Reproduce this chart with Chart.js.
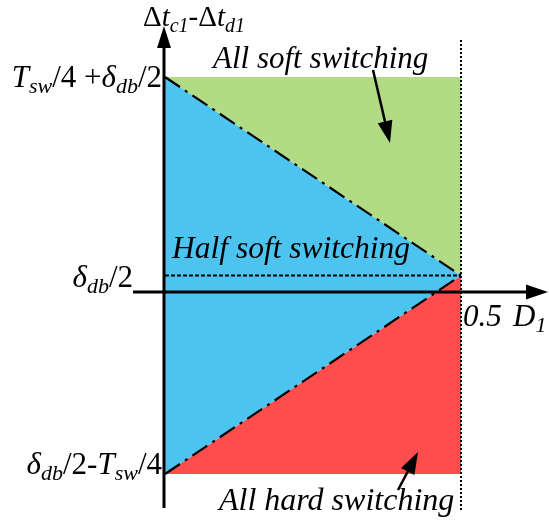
<!DOCTYPE html>
<html lang="en">
<head>
  <meta charset="utf-8"/>
  <title>Soft switching regions</title>
  <script src="https://cdn.jsdelivr.net/npm/chart.js"></script>
  <style>
    html, body { margin: 0; padding: 0; background: #fff; }
    #wrap { width: 549px; height: 525px; }
  </style>
</head>
<body>
  <div id="wrap">
    <canvas id="regionChart" width="549" height="525"></canvas>
  </div>

<script>
  // duty cycle D1 range and the two bounds of Δtc1-Δtd1 (in units of Tsw/4)
  const dutyValues = [0, 0.5];
  const quarterSw = 1;          // Tsw/4
  const halfDb = 0.083;         // δdb/2
  const topBound = [quarterSw + halfDb, quarterSw + halfDb];
  const upperDiag = [quarterSw + halfDb, halfDb];
  const lowerDiag = [halfDb - quarterSw, halfDb];
  const bottomBound = [halfDb - quarterSw, halfDb - quarterSw];
  const halfDbLine = [halfDb, halfDb];

  const green = 'rgb(178,219,133)';
  const blue = 'rgb(77,196,240)';
  const red = 'rgb(255,76,76)';
  const serif = '"Liberation Serif", "Times New Roman", serif';

  const pts = ys => dutyValues.map((x, i) => ({ x: x, y: ys[i] }));

  // draws a label made of pieces: r = roman, i = italic, s = italic subscript
  function richText(ctx, x, y, parts, size, align) {
    const fontFor = k => {
      if (k === 's') return 'italic ' + Math.round(size * 0.7) + 'px ' + serif;
      if (k === 'i') return 'italic ' + size + 'px ' + serif;
      return size + 'px ' + serif;
    };
    let total = 0;
    parts.forEach(p => { ctx.font = fontFor(p[1]); total += ctx.measureText(p[0]).width; });
    let cx = align === 'right' ? x - total : x;
    ctx.fillStyle = '#000';
    ctx.textAlign = 'left';
    ctx.textBaseline = 'alphabetic';
    parts.forEach(p => {
      ctx.font = fontFor(p[1]);
      ctx.fillText(p[0], cx, p[1] === 's' ? y + size * 0.2 : y);
      cx += ctx.measureText(p[0]).width;
    });
  }

  function arrow(ctx, x1, y1, x2, y2, len, wid, lw) {
    const a = Math.atan2(y2 - y1, x2 - x1);
    ctx.strokeStyle = '#000';
    ctx.lineWidth = lw;
    ctx.setLineDash([]);
    ctx.beginPath();
    ctx.moveTo(x1, y1);
    ctx.lineTo(x2 - Math.cos(a) * len * 0.8, y2 - Math.sin(a) * len * 0.8);
    ctx.stroke();
    ctx.fillStyle = '#000';
    ctx.beginPath();
    ctx.moveTo(x2, y2);
    ctx.lineTo(x2 - Math.cos(a) * len - Math.sin(a) * wid / 2, y2 - Math.sin(a) * len + Math.cos(a) * wid / 2);
    ctx.lineTo(x2 - Math.cos(a) * len + Math.sin(a) * wid / 2, y2 - Math.sin(a) * len - Math.cos(a) * wid / 2);
    ctx.closePath();
    ctx.fill();
  }

  const decorations = {
    id: 'decorations',
    afterDatasetsDraw(chart) {
      const ctx = chart.ctx;
      const xs = chart.scales.x, ys = chart.scales.y;
      const x0 = xs.getPixelForValue(0);
      const xHalf = xs.getPixelForValue(0.5);
      const y0 = ys.getPixelForValue(0);
      ctx.save();

      // dotted boundary at D1 = 0.5
      ctx.strokeStyle = '#000';
      ctx.lineWidth = 2;
      ctx.setLineDash([2, 2]);
      ctx.beginPath();
      ctx.moveTo(xHalf, 40);
      ctx.lineTo(xHalf, 512);
      ctx.stroke();

      // axes
      arrow(ctx, 133, y0, 548, y0, 22, 15, 3);
      arrow(ctx, x0 - 1, 508, x0 - 1, 26, 22, 14, 3);

      // pointer arrows
      arrow(ctx, 373, 70, 390, 143, 22, 15, 2.5);
      arrow(ctx, 398, 490, 418, 452, 22, 15, 2.5);

      // axis labels
      richText(ctx, 143, 26, [['Δ', 'r'], ['t', 'i'], ['c1', 's'], ['-Δ', 'r'], ['t', 'i'], ['d1', 's']], 29, 'left');
      richText(ctx, x0 - 3, ys.getPixelForValue(topBound[0]) + 10,
        [['T', 'i'], ['sw', 's'], ['/', 'r'], ['4 +', 'r'], ['δ', 'i'], ['db', 's'], ['/', 'r'], ['2', 'r']], 31, 'right');
      richText(ctx, 133, ys.getPixelForValue(halfDb) + 11,
        [['δ', 'i'], ['db', 's'], ['/', 'r'], ['2', 'r']], 31, 'right');
      richText(ctx, x0 - 3, ys.getPixelForValue(bottomBound[0]),
        [['δ', 'i'], ['db', 's'], ['/', 'r'], ['2-', 'r'], ['T', 'i'], ['sw', 's'], ['/', 'r'], ['4', 'r']], 31, 'right');
      richText(ctx, xHalf + 2, y0 + 34, [['0.5', 'i']], 31, 'left');
      richText(ctx, 513, y0 + 34, [['D', 'i'], ['1', 's']], 31, 'left');

      // region names
      richText(ctx, 213, 68, [['All soft switching', 'i']], 31, 'left');
      richText(ctx, 172, 258, [['Half soft switching', 'i']], 31.5, 'left');
      richText(ctx, 219, 510, [['All hard switching', 'i']], 32, 'left');

      ctx.restore();
    }
  };

  const dashDot = [18, 6, 3, 6];

  new Chart(document.getElementById('regionChart'), {
    type: 'scatter',
    data: {
      datasets: [
        { data: pts(topBound), showLine: true, borderWidth: 0, pointRadius: 0,
          borderColor: green, backgroundColor: green, fill: 1 },
        { data: pts(upperDiag), showLine: true, borderWidth: 2.2, borderDash: dashDot, pointRadius: 0,
          borderColor: '#000', backgroundColor: blue, fill: 2 },
        { data: pts(lowerDiag), showLine: true, borderWidth: 2.2, borderDash: dashDot, pointRadius: 0,
          borderColor: '#000', backgroundColor: red, fill: 3 },
        { data: pts(bottomBound), showLine: true, borderWidth: 0, pointRadius: 0,
          borderColor: red, backgroundColor: red, fill: false },
        { data: pts(halfDbLine), showLine: true, borderWidth: 1.8, borderDash: [4, 2], pointRadius: 0,
          borderColor: '#000', fill: false }
      ]
    },
    options: {
      responsive: false,
      animation: false,
      layout: { padding: 0 },
      plugins: {
        legend: { display: false },
        tooltip: { enabled: false },
        filler: { drawTime: 'beforeDatasetsDraw' }
      },
      scales: {
        x: { type: 'linear', min: -0.2787, max: 0.6486, display: false },
        y: { type: 'linear', min: -1.174, max: 1.471, display: false }
      }
    },
    plugins: [decorations]
  });
</script>
</body>
</html>
